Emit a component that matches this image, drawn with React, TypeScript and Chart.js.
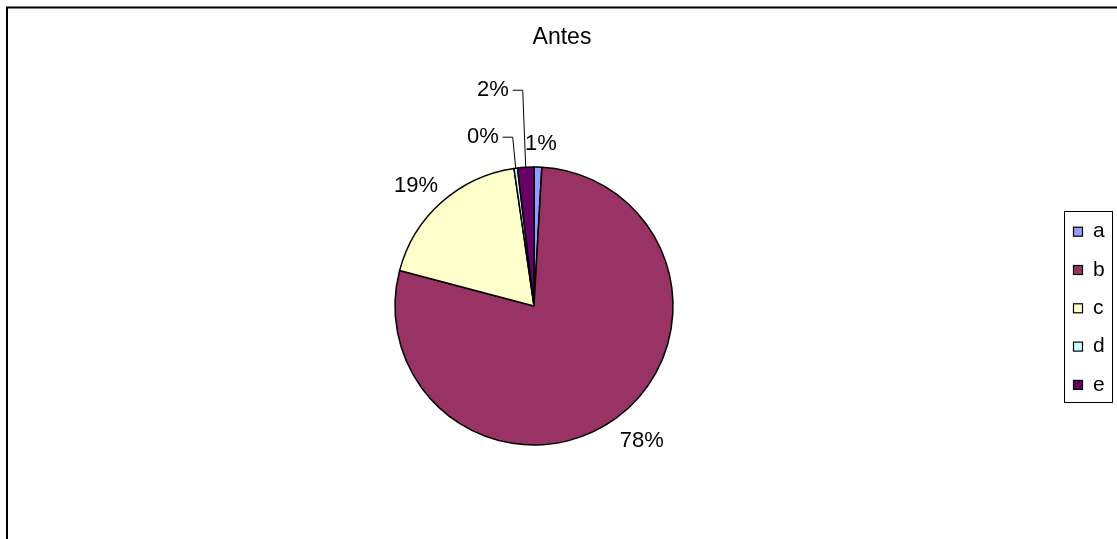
import React, { useEffect, useRef } from "react";
import { Chart, registerables } from "chart.js";

Chart.register(...registerables);

const chartTitle = "Antes";
const categories = ["a", "b", "c", "d", "e"];
const shares = [0.9, 78.2, 18.6, 0.4, 1.9];
const sliceColors = ["#9999FF", "#993366", "#FFFFCC", "#CCFFFF", "#660066"];

const FONT = "'Liberation Sans', Arial, Helvetica, sans-serif";

const decorPlugin = {
  id: "decor",
  afterDraw(chart: any, _args: any, opts: any) {
    const ctx = chart.ctx as CanvasRenderingContext2D;
    const W = chart.width;
    const H = chart.height;
    ctx.save();

    // outer frame (top + left visible)
    ctx.strokeStyle = "#000";
    ctx.lineWidth = 2;
    ctx.beginPath();
    ctx.moveTo(7, H + 5);
    ctx.lineTo(7, 7.5);
    ctx.lineTo(W + 5, 7.5);
    ctx.stroke();

    // title
    ctx.fillStyle = "#000";
    ctx.font = `23px ${FONT}`;
    ctx.textAlign = "center";
    ctx.textBaseline = "middle";
    ctx.fillText(opts.title, 562, 38);

    // data labels
    const meta = chart.getDatasetMeta(0);
    const ds = chart.data.datasets[0];
    const vals: number[] = ds.data as number[];
    const total = vals.reduce((s, v) => s + v, 0);
    const rise: number[] = opts.leaderRise;
    ctx.font = `22px ${FONT}`;
    meta.data.forEach((arc: any, i: number) => {
      const p = arc.getProps(["x", "y", "startAngle", "endAngle", "outerRadius"], true);
      const mid = (p.startAngle + p.endAngle) / 2;
      const dx = Math.cos(mid);
      const dy = Math.sin(mid);
      const txt = Math.round((vals[i] / total) * 100) + "%";
      const w = ctx.measureText(txt).width;
      const h = 12;
      if (rise[i] > 0) {
        const ax = p.x + p.outerRadius * dx;
        const ay = p.y + p.outerRadius * dy;
        const ex = ax - 3;
        const ey = ay - rise[i];
        ctx.strokeStyle = "#000";
        ctx.lineWidth = 1;
        ctx.beginPath();
        ctx.moveTo(ax, ay);
        ctx.lineTo(ex, ey);
        ctx.lineTo(ex - 10, ey);
        ctx.stroke();
        ctx.textAlign = "right";
        ctx.fillText(txt, ex - 14, ey - 0.5);
      } else {
        const R = p.outerRadius + 19;
        const cx = p.x + R * dx + (dx * w) / 2 + 2;
        const cy = p.y + R * dy + (dy * h) / 2 + 2;
        ctx.textAlign = "center";
        ctx.fillText(txt, cx, cy);
      }
    });

    // legend
    ctx.strokeStyle = "#000";
    ctx.lineWidth = 1;
    ctx.strokeRect(1064.5, 211.5, 48, 191);
    ctx.font = `21px ${FONT}`;
    ctx.textAlign = "left";
    const labels: string[] = chart.data.labels;
    labels.forEach((lab, i) => {
      const cy = 231.7 + i * 38.3;
      ctx.fillStyle = (ds.backgroundColor as string[])[i];
      ctx.fillRect(1073.5, cy - 4.5, 9, 9);
      ctx.strokeStyle = "#000";
      ctx.lineWidth = 1.2;
      ctx.strokeRect(1073.5, cy - 4.5, 9, 9);
      ctx.fillStyle = "#000";
      ctx.fillText(lab, 1093, cy);
    });

    ctx.restore();
  },
};

export default function App() {
  const ref = useRef<HTMLCanvasElement | null>(null);
  useEffect(() => {
    if (!ref.current) return;
    Chart.defaults.font.family = FONT;
    const chart = new Chart(ref.current, {
      type: "pie",
      data: {
        labels: categories,
        datasets: [
          {
            data: shares,
            backgroundColor: sliceColors,
            borderColor: "#000",
            borderWidth: 1.5,
          },
        ],
      },
      options: {
        animation: false,
        responsive: true,
        maintainAspectRatio: false,
        radius: 139,
        layout: { padding: { left: 394, right: 443, top: 166, bottom: 93 } },
        plugins: {
          legend: { display: false },
          title: { display: false },
          tooltip: { enabled: false },
          decor: { title: chartTitle, leaderRise: [0, 0, 0, 31, 77] },
        } as any,
      },
      plugins: [decorPlugin],
    } as any);
    return () => chart.destroy();
  }, []);
  return (
    <div style={{ position: "absolute", left: 0, top: 0, width: 1117, height: 539, background: "#fff" }}>
      <canvas ref={ref} />
    </div>
  );
}
